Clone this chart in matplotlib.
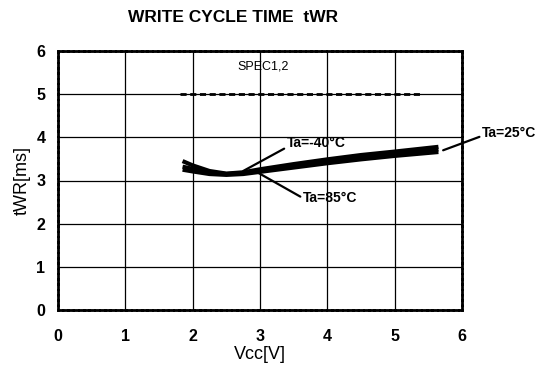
import matplotlib
matplotlib.use("Agg")
import matplotlib.pyplot as plt

plt.rcParams['font.family'] = ['Liberation Sans', 'DejaVu Sans']

# Supply voltage sweep and write cycle time per temperature
vcc = [1.85, 2.0, 2.25, 2.5, 2.75, 3.0, 3.5, 4.0, 4.5, 5.0, 5.65]
twr_m40 = [3.45, 3.35, 3.22, 3.16, 3.19, 3.26, 3.38, 3.49, 3.59, 3.67, 3.78]
twr_25 = [3.32, 3.27, 3.19, 3.15, 3.17, 3.23, 3.34, 3.45, 3.54, 3.62, 3.72]
twr_85 = [3.25, 3.21, 3.15, 3.13, 3.15, 3.20, 3.30, 3.40, 3.49, 3.57, 3.66]

spec_vcc = [1.81, 5.42]
spec_twr = [5.0, 5.0]

x_ticks = [0, 1, 2, 3, 4, 5, 6]
y_ticks = [0, 1, 2, 3, 4, 5, 6]

fig = plt.figure(figsize=(5.36, 3.69), dpi=100)
ax = fig.add_axes([58 / 536, 1 - 310 / 369, (462 - 58) / 536, (310 - 51) / 369])

ax.set_xlim(0, 6)
ax.set_ylim(0, 6)
ax.set_xticks(x_ticks)
ax.set_yticks(y_ticks)
ax.set_xticklabels([str(t) for t in x_ticks], fontsize=11.5, fontweight='bold')
ax.set_yticklabels([str(t) for t in y_ticks], fontsize=11.5, fontweight='bold')
ax.tick_params(length=0, pad=9)
ax.tick_params(axis='x', pad=14)
ax.grid(True, color='black', linewidth=0.9)
ax.set_axisbelow(True)
for s in ax.spines.values():
    s.set_linewidth(2.0)
    s.set_linestyle((0, (1.5, 0.4)))

# Specification limit
ax.plot(spec_vcc, spec_twr, color='black', linewidth=2.0,
        linestyle=(0, (2.2, 1.3)))

# Measured curves
for ys in (twr_m40, twr_25, twr_85):
    ax.plot(vcc, ys, color='black', linewidth=3.0, solid_capstyle='butt')

ax.text(3.04, 5.63, 'SPEC1,2', fontsize=9, ha='center', va='center')


def leader(rel):
    return dict(arrowstyle='-', color='black', linewidth=1.6,
                shrinkA=0, shrinkB=0, relpos=rel)


lab = dict(fontsize=10, fontweight='bold', ha='left', va='center',
           annotation_clip=False)
ax.annotate('Ta=-40°C', xy=(2.75, 3.22), xytext=(3.40, 3.87),
            arrowprops=leader((0, 0.2)), **lab)
ax.annotate('Ta=85°C', xy=(2.96, 3.19), xytext=(3.64, 2.59),
            arrowprops=leader((0, 0.5)), **lab)
ax.annotate('Ta=25°C', xy=(5.72, 3.70), xytext=(6.30, 4.10),
            arrowprops=leader((0, 0.3)), **lab)

ax.set_xlabel('Vcc[V]', fontsize=13, labelpad=1)
ax.set_ylabel('tWR[ms]', fontsize=13, labelpad=4)

fig.text(233 / 536, 1 - 18 / 369, 'WRITE CYCLE TIME  tWR', fontsize=12.5,
         fontweight='bold', ha='center', va='center')

fig.savefig('out.png', dpi=100, facecolor='white')
